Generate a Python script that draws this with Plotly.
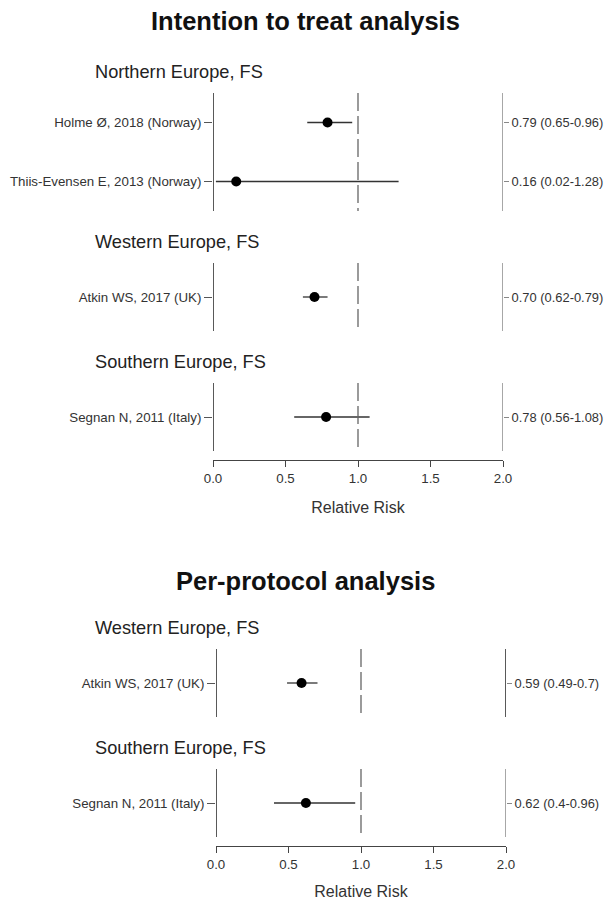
import plotly.graph_objects as go

# ---------------- data ----------------
itt_group = ["Northern Europe, FS", "Northern Europe, FS", "Western Europe, FS", "Southern Europe, FS"]
itt_study = ["Holme Ø, 2018 (Norway)", "Thiis-Evensen E, 2013 (Norway)",
             "Atkin WS, 2017 (UK)", "Segnan N, 2011 (Italy)"]
itt_rr = [0.79, 0.16, 0.70, 0.78]
itt_lo = [0.65, 0.02, 0.62, 0.56]
itt_hi = [0.96, 1.28, 0.79, 1.08]
itt_text = ["0.79 (0.65-0.96)", "0.16 (0.02-1.28)", "0.70 (0.62-0.79)", "0.78 (0.56-1.08)"]

pp_group = ["Western Europe, FS", "Southern Europe, FS"]
pp_study = ["Atkin WS, 2017 (UK)", "Segnan N, 2011 (Italy)"]
pp_rr = [0.59, 0.62]
pp_lo = [0.49, 0.40]
pp_hi = [0.70, 0.96]
pp_text = ["0.59 (0.49-0.7)", "0.62 (0.4-0.96)"]

x_ticks = [0.0, 0.5, 1.0, 1.5, 2.0]
x_tick_labels = ["0.0", "0.5", "1.0", "1.5", "2.0"]

titles = ["Intention to treat analysis", "Per-protocol analysis"]
x_title = "Relative Risk"

# ---------------- layout constants (pixels) ----------------
W, H = 611, 900
FONT = "Arial, Liberation Sans, sans-serif"
BLOCK_BASE, BLOCK_PER_ROW = 120, 50     # height of a group block
SEG_TOP, SEG_BOT = 21, 31               # header -> segment top, segment bottom -> block end
AXIS_GAP = 9


def build_rows(groups, header_start):
    order = []
    for g in groups:
        if g not in order:
            order.append(g)
    rows = [None] * len(groups)
    blocks = []
    y = header_start
    for g in order:
        idx = [i for i, gg in enumerate(groups) if gg == g]
        n = len(idx)
        block_h = BLOCK_BASE + BLOCK_PER_ROW * (n - 1)
        top = y + SEG_TOP
        bot = y + block_h - SEG_BOT
        for k, i in enumerate(idx):
            rows[i] = top + (bot - top) * (k + 0.5) / n
        blocks.append(dict(name=g, header=y, top=top, bot=bot))
        y += block_h
    axis_y = blocks[-1]["bot"] + AXIS_GAP
    return rows, blocks, axis_y


panels = [
    dict(group=itt_group, study=itt_study, rr=itt_rr, lo=itt_lo, hi=itt_hi, text=itt_text,
         title=titles[0], title_y=21, header_start=72, top=0, x0=213, x1=503,
         right_colors=["#8a8a8a", "#8a8a8a", "#8a8a8a"]),
    dict(group=pp_group, study=pp_study, rr=pp_rr, lo=pp_lo, hi=pp_hi, text=pp_text,
         title=titles[1], title_y=581, header_start=628, top=540, x0=216, x1=506,
         right_colors=["#222222", "#8a8a8a"]),
]

fig = go.Figure()
shapes, annotations = [], []
layout = {}

for p_i, p in enumerate(panels):
    rows, blocks, axis_y = build_rows(p["group"], p["header_start"])
    xa = "x" if p_i == 0 else "x2"
    ya = "y" if p_i == 0 else "y2"
    ya_r = "y3" if p_i == 0 else "y4"
    xkey = "xaxis" if p_i == 0 else "xaxis2"
    ykey = "yaxis" if p_i == 0 else "yaxis2"
    yrkey = "yaxis3" if p_i == 0 else "yaxis4"
    top = p["top"]
    ydom = [1 - axis_y / H, 1 - top / H]
    yrange = [axis_y, top]

    layout[xkey] = dict(
        domain=[p["x0"] / W, p["x1"] / W], range=[0, 2], anchor=ya, automargin=False,
        tickvals=x_ticks, ticktext=x_tick_labels, ticks="outside", ticklen=6,
        tickwidth=1.3, tickcolor="#444", showline=True, linecolor="#444", linewidth=1.3,
        showgrid=False, zeroline=False,
        tickfont=dict(family=FONT, size=13.3, color="#333"),
        title=dict(text=x_title, font=dict(family=FONT, size=16, color="#333"), standoff=16),
    )
    layout[ykey] = dict(
        domain=ydom, range=yrange, anchor=xa, showgrid=False, zeroline=False, showline=False,
        automargin=False,
        tickvals=rows, ticktext=p["study"], ticks="outside", ticklen=8, tickwidth=1.3,
        tickcolor="#555", tickfont=dict(family=FONT, size=13.3, color="#333"),
    )
    layout[yrkey] = dict(
        overlaying=ya, side="right", anchor=xa, range=yrange, showgrid=False,
        zeroline=False, showline=False, automargin=False,
        tickvals=rows, ticktext=p["text"],
        ticks="outside", ticklen=5, tickwidth=1.3, tickcolor="#888",
        tickfont=dict(family=FONT, size=12.9, color="#333"),
    )

    # group segments
    for b_i, b in enumerate(blocks):
        shapes.append(dict(type="line", xref=xa, yref=ya, x0=0, x1=0, y0=b["top"], y1=b["bot"],
                           line=dict(color="#222", width=1.5)))
        shapes.append(dict(type="line", xref=xa, yref=ya, x0=2, x1=2, y0=b["top"], y1=b["bot"],
                           line=dict(color=p["right_colors"][b_i], width=1.5)))
        shapes.append(dict(type="line", xref=xa, yref=ya, x0=1, x1=1, y0=b["top"], y1=b["bot"],
                           line=dict(color="#666", width=1.3, dash="18px,5px")))
        annotations.append(dict(text=b["name"], xref="paper", yref=ya, x=93 / W, y=b["header"],
                                xanchor="left", yanchor="middle", showarrow=False,
                                font=dict(family=FONT, size=18.2, color="#222")))

    annotations.append(dict(text="<b>" + p["title"] + "</b>", xref="paper", yref=ya,
                            x=0.5, y=p["title_y"], xanchor="center", yanchor="middle",
                            showarrow=False, font=dict(family=FONT, size=25.5, color="#111")))

    fig.add_trace(go.Scatter(
        x=p["rr"], y=rows, mode="markers", xaxis=xa, yaxis=ya, showlegend=False,
        marker=dict(color="black", size=10),
        error_x=dict(type="data", symmetric=False,
                     array=[h - r for h, r in zip(p["hi"], p["rr"])],
                     arrayminus=[r - l for r, l in zip(p["rr"], p["lo"])],
                     width=0, thickness=1.3, color="#333"),
        cliponaxis=False, hoverinfo="skip",
    ))
    # invisible trace to activate right axis
    fig.add_trace(go.Scatter(x=[None], y=[None], xaxis=xa, yaxis=ya_r, showlegend=False))

fig.update_layout(
    width=W, height=H, autosize=False, margin=dict(l=0, r=0, t=0, b=0),
    paper_bgcolor="white", plot_bgcolor="white", showlegend=False,
    shapes=shapes, annotations=annotations, **layout,
)

fig.write_html("out.html", config={"displayModeBar": False},
               post_script="document.body.style.margin='0px';")
